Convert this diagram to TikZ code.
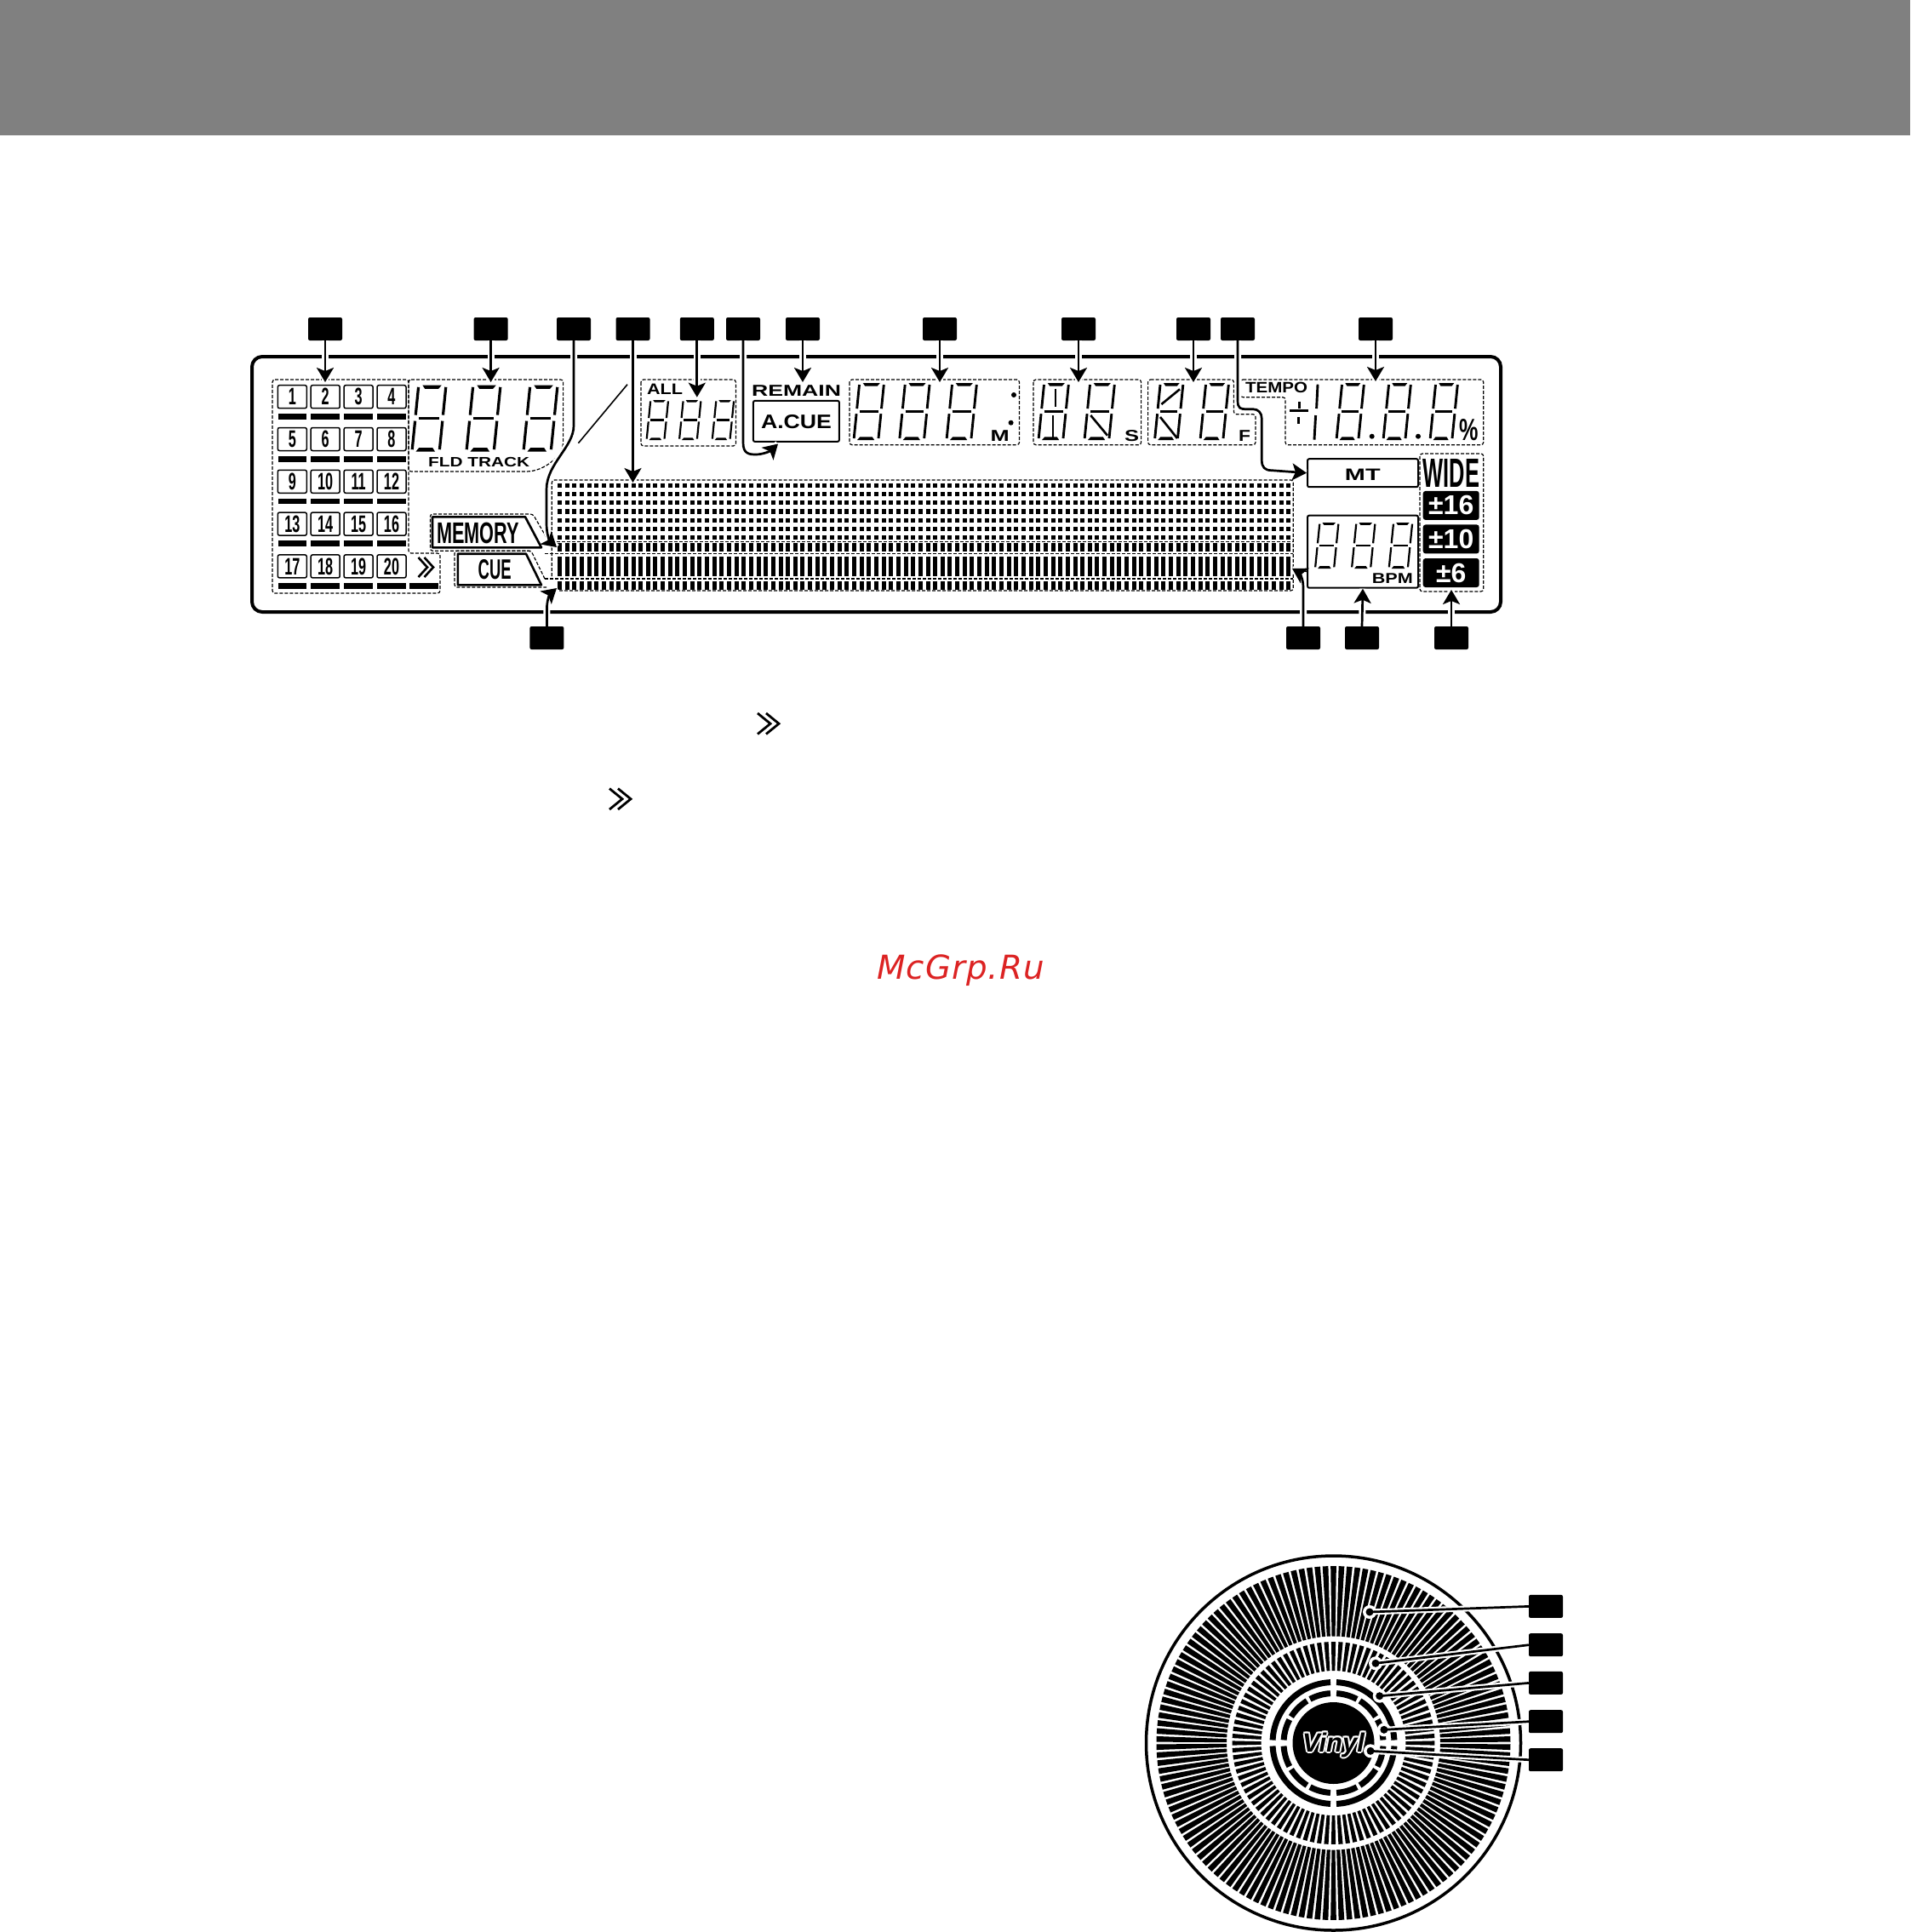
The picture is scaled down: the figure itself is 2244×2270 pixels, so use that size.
\documentclass[tikz,border=0pt]{standalone}
\usepackage{fontspec}
\setmainfont{Liberation Sans}
\newfontfamily\markfont[LetterSpace=2.5]{DejaVu Sans}
\usetikzlibrary{arrows.meta}

\definecolor{markred}{RGB}{220,35,35}

\tikzset{
    tagbox/.style={fill=black,rounded corners=2pt,inner sep=0pt,minimum width=40pt,minimum height=27pt},
    lcdzone/.style={line width=1.2pt,dash pattern=on 4pt off 2pt,rounded corners=3pt},
    lcdframe/.style={draw,line width=2pt,rounded corners=2pt,inner sep=0pt},
    padbox/.style={draw,line width=1.5pt,rounded corners=2pt,inner sep=0pt,minimum width=34pt,minimum height=27pt},
    rangebox/.style={fill=black,rounded corners=3pt,inner sep=0pt,text=white,minimum width=66pt,minimum height=34pt},
    lcdlabel/.style={inner sep=0pt,anchor=base,font=\bfseries},
    callout/.style={line width=2.7pt,->,preaction={draw=white,line width=8pt,-}},
    discline/.style={line width=2.7pt,preaction={draw=white,line width=7pt}},
    ringseg/.style={line width=7pt}
}

\newcommand{\lcdtext}[3]{\scalebox{#2}[1]{\fontsize{#1}{#1}\selectfont #3}}

% x of left edge, y of top, full width, height, stroke
\newcommand{\segdigit}[5]{%
    \pgfmathsetmacro{\segw}{#3-0.1*#4}%
    \begin{scope}[shift={({#1+0.1*#4},#2)},xslant=0.1,x=\segw pt,y=-#4 pt]
        \fill (.14,0)--(.84,0)--(.74,.055)--(.24,.055)--cycle;
        \fill (.14,1)--(.84,1)--(.74,.945)--(.24,.945)--cycle;
        \draw[line width=#5 pt] (.12,.5)--(.88,.5);
        \draw[line width=#5 pt] (0,.03)--(0,.45) (0,.54)--(0,.97) (1,.03)--(1,.45) (1,.54)--(1,.97);
    \end{scope}%
}

\newcommand{\dblchevron}[5]{%
    \draw[line width=#5 pt] (#1,#2)--({#1+.6*#3},{#2+.5*#4})--(#1,{#2+#4});
    \draw[line width=#5 pt] ({#1+.4*#3},#2)--({#1+#3},{#2+.5*#4})--({#1+.4*#3},{#2+#4});
}

\begin{document}
\begin{tikzpicture}[x=1pt,y=-1pt,>={Stealth[length=17pt,width=20pt,inset=4pt]}]
\useasboundingbox (0,0) rectangle (2244,2270);

\fill[black!50] (0,0) rectangle (2244,159);

\draw[line width=4pt,rounded corners=12pt] (296,419) rectangle (1763,719);

% pads
\foreach \n in {1,...,20}
{
    \pgfmathtruncatemacro{\row}{(\n-1)/4}
    \pgfmathtruncatemacro{\col}{\n-1-4*\row}
    \node[padbox] (pad\n) at (343.3+38.9*\col,466.2+49.8*\row) {\bfseries\lcdtext{28}{.58}{\n}};
    \fill (326.5+38.9*\col,486+49.8*\row) rectangle ++(33.5,6.7);
}
\fill (481,685.2) rectangle ++(34,6.7);
\dblchevron{491.5}{655}{17.5}{23}{2.6}

% dashed zones
\draw[lcdzone] (320,446)--(480,446)--(480,650)--(517,650)--(517,697)--(320,697)--cycle;
\draw[lcdzone] (480,446)--(661.6,446)--(661.6,516) .. controls (661.6,535) and (640,554) .. (615,554)--(480,554)--cycle;
\draw[lcdzone] (753,446) rectangle (864.4,524);
\draw[lcdzone] (998,446) rectangle (1197.5,522.7);
\draw[lcdzone] (1214,446) rectangle (1340.6,522.7);
\draw[lcdzone] (1348.6,446)--(1449.4,446)--(1449.4,486.7)--(1475,486.7)--(1475,522.7)--(1348.6,522.7)--cycle;
\draw[lcdzone] (1457.3,446)--(1742.7,446)--(1742.7,522.7)--(1510,522.7)--(1510,466.7)--(1457.3,466.7)--cycle;
\draw[lcdzone] (1668,533) rectangle (1742.7,695);
\draw[lcdzone] (648.3,677)--(648.3,564)--(1519.3,564)--(1519.3,694)--(655,694);
\draw[lcdzone] (648,636.7)--(1519.3,636.7);
\draw[lcdzone] (640,650.7)--(1519.3,650.7);
\draw[lcdzone] (640,680)--(1519.3,680);
\draw[lcdzone] (645,636.7)--(626,604)--(505.4,604)--(505.4,647.3)--(624,647.3);
\draw[lcdzone] (640,680)--(624,647.3)--(534,647.3)--(534,690)--(642,690);

% digits
\foreach \x in {484,548,615}
{
    \segdigit{\x}{452.5}{40}{78}{3.2}
}
\foreach \x in {759.6,798,836.7}
{
    \segdigit{\x}{470}{25.5}{47}{2.2}
}
\foreach \x in {1003,1056.7,1112,1220,1274}
{
    \segdigit{\x}{450}{35.5}{67}{2.9}
}
\foreach \x in {1356.5,1410}
{
    \segdigit{\x}{450}{33.5}{67}{2.9}
}
\foreach \x in {1570,1625,1680}
{
    \segdigit{\x}{450}{32.5}{67}{2.9}
}
\foreach \x in {1545,1588,1631.7}
{
    \segdigit{\x}{614}{27.5}{54}{2.2}
}

\draw[line width=2.8pt] (1240,456.7)--(1240,478) (1237,488)--(1237,515);
\draw[line width=2.6pt] (1281.3,488)--(1301,511.7);
\draw[line width=2.6pt] (1364.4,475)--(1386,457.3) (1363,490)--(1383,515);

% tempo sign and the lone 1
\draw[line width=2.6pt] (1515,482.7)--(1536.7,482.7);
\draw[line width=2.6pt] (1526.7,471.7)--(1526.7,480) (1525.7,490)--(1525.7,497.7);
\draw[line width=2.9pt] (1548,451.7)--(1546.6,480) (1545.6,488)--(1544,516.7);
\foreach \x in {1611.7,1666}
{
    \fill (\x,512.7) circle (3);
}
\fill (1191,464) circle (3) (1187.6,496.7) circle (3);

\draw[line width=1.6pt] (737,451.7)--(679.4,520.7);

% dot matrix
\foreach \i in {0,...,99}
{
    \foreach \y/\h in {567.7/5.3,577.9/5.3,588.1/5.3,598.3/5.3,608.5/5.3,618.7/5.3,628.9/5.3,638.3/9.4,654/23.3,682.7/10}
    {
        \fill (655+8.65*\i,\y) rectangle ++(5,\h);
    }
}

% boxed labels
\node[lcdframe,minimum width=101pt,minimum height=48pt] (acuebox) at (935.4,494.9) {};
\node[lcdframe,minimum width=130pt,minimum height=33pt] (mtbox) at (1601,555.7) {};
\node[lcdframe,minimum width=130pt,minimum height=85pt] (bpmbox) at (1601,648.2) {};
\draw[line width=2.6pt,line join=round,fill=white] (508,607.3)--(617,607.3)--(636,643.3)--(508,643.3)--cycle;
\draw[line width=2.6pt,line join=round,fill=white] (537.8,650.7)--(618,650.7)--(636,687.3)--(537.8,687.3)--cycle;

\foreach \name/\txt/\size/\sc/\x/\y in {
    fldlabel/FLD TRACK/16/1.3/562.7/548.3,
    alllabel/ALL/18/1.2/781/463,
    remainlabel/REMAIN/18.6/1.43/935.5/465,
    acuelabel/A.CUE/23/1.16/935.5/503.3,
    mlabel/M/18.6/1.43/1174.6/518.3,
    slabel/S/18.6/1.37/1329.5/518.3,
    flabel/F/18.6/1.23/1462/518.3,
    tempolabel/TEMPO/17.7/1.16/1499.5/461.7,
    mtlabel/MT/19.5/1.48/1600.8/564,
    bpmlabel/BPM/17/1.27/1635.8/685,
    widelabel/WIDE/48/.53/1704.8/572.5,
    memorylabel/MEMORY/35/.62/561.5/638,
    cuelabel/CUE/33/.56/581.2/680.7}
{
    \node[lcdlabel] (\name) at (\x,\y) {\lcdtext{\size}{\sc}{\txt}};
}
\node[inner sep=0pt,anchor=base] (percent) at (1726,517) {\bfseries\lcdtext{36}{.7}{\%}};

\node[rangebox] (range16) at (1704.7,593.9) {\bfseries\lcdtext{32}{1}{±16}};
\node[rangebox] (range10) at (1704.7,633.4) {\bfseries\lcdtext{32}{1}{±10}};
\node[rangebox] (range6) at (1704.7,673) {\bfseries\lcdtext{32}{1}{±6}};

% tags
\foreach \name/\x in {tagpads/382,tagtrack/576.6,tagmemory/674,tagmatrix/743.5,tagall/818.8,tagacue/873,
    tagremain/943,tagmin/1104,tagsec/1267,tagframe/1402,tagmt/1454,tagtempo/1616}
{
    \node[tagbox] (\name) at (\x,386.5) {};
}
\foreach \name/\x in {tagcue/642.4,tagbar/1531,tagbpm/1600,tagwide/1705}
{
    \node[tagbox] (\name) at (\x,749.5) {};
}

% arrows
\foreach \name/\x/\y in {tagpads/382/449,tagtrack/576.6/449,tagmatrix/743.5/567,tagall/818.8/466.7,
    tagremain/943/449,tagmin/1104/449,tagsec/1267/449,tagframe/1402/449,tagtempo/1616/448}
{
    \coordinate (\name tip) at (\x,\y);
    \draw[callout] (\name.south)--(\name tip);
}
\coordinate (widetip) at (1705,693);
\draw[callout] (tagbpm.north)--(bpmbox.south);
\draw[callout] (tagwide.north)--(widetip);

\coordinate (memorytip) at (654,643);
\draw[callout] (tagmemory.south)--++(0,100) .. controls ++(0,25) and (642,545) .. (642,575)--(642,615) .. controls (642,628) and (646,636) .. (memorytip);
\coordinate (cuetip) at (654,691);
\draw[callout] (tagcue.north)--++(0,-20) .. controls ++(0,-11) and (646,698) .. (cuetip);
\coordinate (bartip) at (1518,668);
\coordinate (barlink) at (1536,671.7);
\draw[line width=1.5pt] (bartip)--(barlink);
\draw[callout] (tagbar.north)--++(0,-46) .. controls ++(0,-12) and (1525,672) .. (bartip);
\coordinate (acuetip) at (914,521.5);
\draw[callout] (tagacue.south)--++(0,120) .. controls ++(0,13) and (880,534) .. (888,534) .. controls (896,534) and (905,530) .. (acuetip);
\draw[callout] (tagmt.south)--++(0,70) .. controls ++(0,10) and (1457,480.7) .. (1465,480.7)--(1472,480.7) .. controls (1478,480.7) and (1482.3,485) .. (1482.3,492)--(1482.3,541) .. controls (1482.3,549) and (1486,552.7) .. (1494,552.7)--(mtbox.west);

\dblchevron{890}{838}{25}{24.5}{2.8}
\dblchevron{716}{926.5}{25}{24.5}{2.8}

\node[inner sep=0pt,text=markred,anchor=base] (watermark) at (1128.5,1150)
    {\markfont\itshape\fontsize{38.8}{38.8}\selectfont McGrp.Ru};

% disc
\draw[line width=3.5pt] (1566.5,2048) circle (220);
\begin{scope}[shift={(1566.5,2048)},y=1pt]
    \foreach \k in {0,...,137}
    {
        \pgfmathsetmacro{\a}{1.3+\k*2.6087}
        \fill (\a-.92:208)--(\a+.92:208)--(\a+.92:125.5)--(\a-.92:125.5)--cycle;
    }
    \foreach \k in {0,...,87}
    {
        \pgfmathsetmacro{\a}{\k*4.0909}
        \fill (\a-1.25:119)--(\a+1.25:119)--(\a+1.25:85)--(\a-1.25:85)--cycle;
    }
    \foreach \a in {0,90,180,270}
    {
        \draw[ringseg] (\a+2.8:71.5) arc[start angle=\a+2.8,end angle=\a+87.2,radius=71.5];
        \foreach \s/\e in {3.5/28,32/58,62/86.5}
        {
            \draw[ringseg] (\a+\s:58.5) arc[start angle=\a+\s,end angle=\a+\e,radius=58.5];
        }
    }
    \fill (0,0) circle (48);
    \foreach \i/\dx/\dy in {1/2/0,2/-2/0,3/0/2,4/0/-2,5/1.5/1.5,6/-1.5/1.5,7/1.5/-1.5,8/-1.5/-1.5}
    {
        \node[inner sep=0pt,anchor=base,text=white] (vinylback\i) at (\dx,-10+\dy) {\bfseries\itshape\lcdtext{31}{1}{Vinyl}};
    }
    \node[inner sep=0pt,anchor=base] (vinyllogo) at (0,-10) {\bfseries\itshape\lcdtext{31}{1}{Vinyl}};
\end{scope}

\foreach \i/\x/\y/\ty in {1/1609/1894/1887.4,2/1616/1954.3/1932.7,3/1620.7/1992.7/1977.4,4/1625.9/2032.3/2022.7,5/1610/2057.3/2067.7}
{
    \node[tagbox] (tagdisc\i) at (1816,\ty) {};
    \coordinate (spot\i) at (\x,\y);
    \fill[white] (spot\i) circle (8);
    \draw[discline] (spot\i)--(tagdisc\i.west);
    \fill (spot\i) circle (4.5);
}
\end{tikzpicture}
\end{document}
